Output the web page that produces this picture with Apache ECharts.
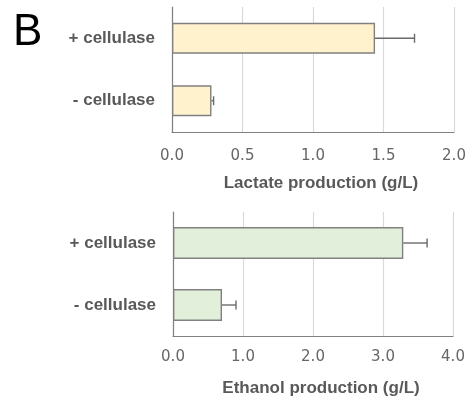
<!DOCTYPE html>
<html>
<head>
<meta charset="utf-8">
<script src="https://cdn.jsdelivr.net/npm/echarts@6/dist/echarts.min.js"></script>
<style>
  html, body { margin: 0; padding: 0; background: #fff; }
  #chart { width: 474px; height: 406px; }
</style>
</head>
<body>
<div id="chart"></div>
<script>
// Treatment groups (top to bottom)
const categories = ['+ cellulase', '- cellulase'];

// Lactate production (g/L): mean and upper error
const lactateMean = [1.44, 0.28];
const lactateErr = [0.28, 0.015];

// Ethanol production (g/L): mean and upper error
const ethanolMean = [3.29, 0.70];
const ethanolErr = [0.34, 0.20];

// Axis tick settings
const lactateTicks = { min: 0, max: 2.0, interval: 0.5 };
const ethanolTicks = { min: 0, max: 4.0, interval: 1.0 };

const FONT = 'Liberation Sans';
const GRAY = '#595959';
const AXIS_GRAY = '#808080';

function errorRenderer(params, api) {
  const cat = api.value(0);
  const mean = api.value(1);
  const err = api.value(2);
  const p0 = api.coord([mean, cat]);
  const p1 = api.coord([mean + err, cat]);
  const cap = 4.5;
  const style = { stroke: '#6a6a6a', lineWidth: 1.4 };
  return {
    type: 'group',
    children: [
      { type: 'line', shape: { x1: p0[0], y1: p0[1], x2: p1[0], y2: p1[1] }, style },
      { type: 'line', shape: { x1: p1[0], y1: p1[1] - cap, x2: p1[0], y2: p1[1] + cap }, style }
    ]
  };
}

function valueAxis(gridIndex, ticks, name, labelMargin, nameGap) {
  return {
    type: 'value',
    gridIndex,
    min: ticks.min,
    max: ticks.max,
    interval: ticks.interval,
    axisLine: { show: true, lineStyle: { color: AXIS_GRAY, width: 1.2 } },
    axisTick: { show: false },
    splitLine: { show: true, lineStyle: { color: '#d9d9d9', width: 1.2 } },
    axisLabel: {
      color: '#666666', fontFamily: 'DejaVu Sans', fontSize: 15, margin: labelMargin,
      formatter: v => v.toFixed(1)
    },
    name,
    nameLocation: 'middle',
    nameGap,
    nameTextStyle: {
      color: GRAY, fontFamily: FONT, fontSize: 17, fontWeight: 'bold',
      padding: [0, 0, 0, 16]
    }
  };
}

function catAxis(gridIndex) {
  return {
    type: 'category',
    gridIndex,
    data: categories,
    inverse: true,
    axisLine: { show: true, lineStyle: { color: AXIS_GRAY, width: 1.2 } },
    axisTick: { show: false },
    axisLabel: {
      color: GRAY, fontFamily: FONT, fontSize: 17, fontWeight: 'bold', margin: 17
    }
  };
}

const chart = echarts.init(document.getElementById('chart'), null, { renderer: 'canvas' });

chart.setOption({
  animation: false,
  backgroundColor: '#ffffff',
  graphic: [{
    type: 'text', left: 13, top: 11,
    style: { text: 'B', font: '44px "Liberation Sans"', fill: '#000' }
  }],
  grid: [
    { left: 172, right: 20, top: 7, height: 125 },
    { left: 173, right: 21, top: 212, height: 124 }
  ],
  xAxis: [
    valueAxis(0, lactateTicks, 'Lactate production (g/L)', 17, 43),
    valueAxis(1, ethanolTicks, 'Ethanol production (g/L)', 14, 44)
  ],
  yAxis: [catAxis(0), catAxis(1)],
  series: [
    {
      type: 'bar', xAxisIndex: 0, yAxisIndex: 0,
      data: lactateMean, barWidth: 31,
      itemStyle: { color: '#fff2cc', borderColor: AXIS_GRAY, borderWidth: 1.4 }
    },
    {
      type: 'custom', xAxisIndex: 0, yAxisIndex: 0,
      renderItem: errorRenderer,
      encode: { x: 1, y: 0 },
      data: categories.map((c, i) => [i, lactateMean[i], lactateErr[i]]),
      z: 5
    },
    {
      type: 'bar', xAxisIndex: 1, yAxisIndex: 1,
      data: ethanolMean, barWidth: 32,
      itemStyle: { color: '#e2efda', borderColor: AXIS_GRAY, borderWidth: 1.4 }
    },
    {
      type: 'custom', xAxisIndex: 1, yAxisIndex: 1,
      renderItem: errorRenderer,
      encode: { x: 1, y: 0 },
      data: categories.map((c, i) => [i, ethanolMean[i], ethanolErr[i]]),
      z: 5
    }
  ]
});
</script>
</body>
</html>
